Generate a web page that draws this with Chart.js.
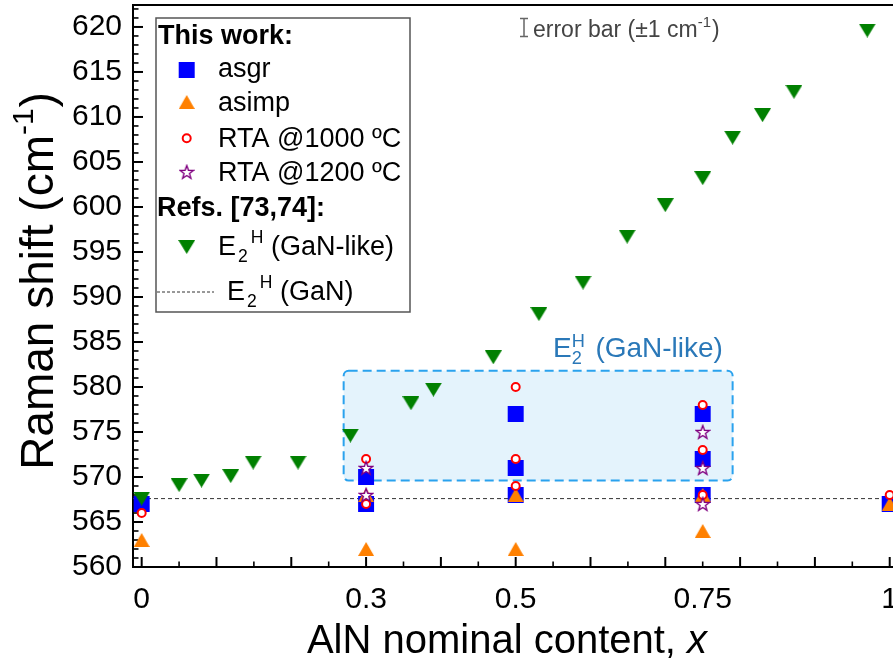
<!DOCTYPE html>
<html>
<head>
<meta charset="utf-8">
<script src="https://cdn.jsdelivr.net/npm/chart.js@4.4.0/dist/chart.umd.min.js"></script>
<style>
  html, body { margin: 0; padding: 0; background: #fff; overflow: hidden; }
  #wrap { width: 893px; height: 665px; }
</style>
</head>
<body>
<div id="wrap"><canvas id="ramanChart" width="893" height="665"></canvas></div>
<script>
// AlN nominal content (x) and Raman shift (cm-1)
const asgrX = [0, 0.3, 0.3, 0.5, 0.5, 0.5, 0.75, 0.75, 0.75, 1];
const asgrY = [567, 567, 570, 568, 571, 577, 568, 572, 577, 567];
const asimpX = [0, 0.3, 0.3, 0.5, 0.5, 0.75, 0.75, 1];
const asimpY = [563, 562, 568, 562, 568, 564, 568, 567];
const rta1000X = [0, 0.3, 0.3, 0.5, 0.5, 0.5, 0.75, 0.75, 0.75, 1];
const rta1000Y = [566, 567, 572, 569, 572, 580, 568, 573, 578, 568];
const rta1200X = [0.3, 0.3, 0.75, 0.75, 0.75];
const rta1200Y = [568, 571, 567, 571, 575];
// Refs. [73,74]: E2H (GaN-like)
const refX = [0, 0.05, 0.08, 0.119, 0.149, 0.209, 0.279, 0.36, 0.39, 0.47, 0.531, 0.59, 0.649, 0.70, 0.75, 0.79, 0.83, 0.872, 0.97];
const refY = [567.6, 569.1, 569.6, 570.1, 571.6, 571.6, 574.6, 578.2, 579.7, 583.3, 588.1, 591.6, 596.7, 600.2, 603.2, 607.7, 610.2, 612.8, 619.6];
const ganE2H = 567.6;

const xTickLabels = [0, 0.3, 0.5, 0.75, 1];
const yTickLabels = [560, 565, 570, 575, 580, 585, 590, 595, 600, 605, 610, 615, 620];
const xRange = [-0.0116, 1.0044];
const yRange = [560, 622.44];
// shaded E2H (GaN-like) region
const boxX = [0.27, 0.79];
const boxY = [569.6, 581.8];

const FONT = '"Liberation Sans", Arial, sans-serif';
const BLUE = '#0000ff', ORANGE = '#ff8000', RED = '#ff0000', PURPLE = '#800080', GREEN = '#008000';

function pts(xs, ys) { return xs.map((x, i) => ({ x: x, y: ys[i] })); }

function markerCanvas(w, h, draw) {
    const c = document.createElement('canvas');
    c.width = w; c.height = h;
    draw(c.getContext('2d'), w, h);
    return c;
}
const triUp = markerCanvas(16, 14, (g, w, h) => {
    g.fillStyle = ORANGE;
    g.beginPath(); g.moveTo(w / 2, 0); g.lineTo(w, h); g.lineTo(0, h); g.closePath(); g.fill();
});
const triDown = markerCanvas(17, 14, (g, w, h) => {
    g.fillStyle = GREEN;
    g.beginPath(); g.moveTo(0, 0); g.lineTo(w, 0); g.lineTo(w / 2, h); g.closePath(); g.fill();
});
const starImg = markerCanvas(16, 16, (g) => {
    g.beginPath();
    for (let i = 0; i < 10; i++) {
        const r = i % 2 === 0 ? 7 : 2.9;
        const a = -Math.PI / 2 + i * Math.PI / 5;
        const px = 8 + r * Math.cos(a), py = 8.6 + r * Math.sin(a);
        if (i === 0) g.moveTo(px, py); else g.lineTo(px, py);
    }
    g.closePath();
    g.fillStyle = '#fff'; g.fill();
    g.strokeStyle = PURPLE; g.lineWidth = 1.4; g.stroke();
});

// text with sub/superscripts
function fontOf(p, s) { return (p.italic ? 'italic ' : '') + (p.bold ? 'bold ' : '') + s + 'px ' + FONT; }
function richWidth(g, parts, size) {
    let w = 0;
    parts.forEach(p => {
        if (p.stack) {
            g.font = (size * 0.65) + 'px ' + FONT;
            w += Math.max(g.measureText(p.stack[0]).width, g.measureText(p.stack[1]).width) + size * 0.1;
        } else {
            g.font = fontOf(p, (p.sub || p.sup) ? size * 0.65 : size);
            w += g.measureText(p.t).width + (p.gap || 0);
        }
    });
    return w;
}
function drawRich(g, x, y, parts, size, color) {
    let cx = x;
    g.fillStyle = color;
    g.textAlign = 'left';
    g.textBaseline = 'alphabetic';
    parts.forEach(p => {
        if (p.stack) {
            g.font = (size * 0.65) + 'px ' + FONT;
            g.fillText(p.stack[0], cx, y - size * 0.36);
            g.fillText(p.stack[1], cx, y + size * 0.26);
            cx += Math.max(g.measureText(p.stack[0]).width, g.measureText(p.stack[1]).width) + size * 0.1;
        } else {
            const s = (p.sub || p.sup) ? size * 0.65 : size;
            const dy = p.sub ? size * 0.26 : (p.sup ? -size * 0.44 : 0);
            g.font = fontOf(p, s);
            g.fillText(p.t, cx, y + dy);
            cx += g.measureText(p.t).width + (p.gap || 0);
        }
    });
    return cx;
}

const framePlugin = {
    id: 'frame',
    beforeDatasetsDraw(chart) {
        const g = chart.ctx, a = chart.chartArea, xs = chart.scales.x, ys = chart.scales.y;
        g.save();
        // shaded region
        const bx0 = xs.getPixelForValue(boxX[0]), bx1 = xs.getPixelForValue(boxX[1]);
        const by0 = ys.getPixelForValue(boxY[1]), by1 = ys.getPixelForValue(boxY[0]);
        g.beginPath();
        g.roundRect(bx0, by0, bx1 - bx0, by1 - by0, 5);
        g.fillStyle = 'rgba(214, 236, 251, 0.65)';
        g.fill();
        g.setLineDash([9, 5]);
        g.strokeStyle = '#2aa2ee';
        g.lineWidth = 2;
        g.stroke();
        g.setLineDash([]);

        // inward ticks
        g.strokeStyle = '#000';
        for (let i = 0; i <= 20; i++) {
            const px = xs.getPixelForValue(i * 0.05);
            const len = i % 2 === 0 ? 10 : 5.5;
            g.lineWidth = i % 2 === 0 ? 2 : 1.6;
            g.beginPath(); g.moveTo(px, a.bottom); g.lineTo(px, a.bottom - len); g.stroke();
        }
        for (let v = 560; v <= 622; v++) {
            const py = ys.getPixelForValue(v);
            const len = v % 5 === 0 ? 10 : 5.5;
            g.lineWidth = v % 5 === 0 ? 2 : 1.6;
            g.beginPath(); g.moveTo(a.left, py); g.lineTo(a.left + len, py); g.stroke();
        }
        g.lineWidth = 2;
        g.beginPath(); g.moveTo(a.left - 1, a.top); g.lineTo(a.right, a.top); g.stroke();
        g.restore();
    },
    afterDraw(chart) {
        const g = chart.ctx;
        g.save();

        // region label
        drawRich(g, 553, 357, [{ t: 'E' }, { stack: ['H', '2'] }, { t: ' (GaN-like)' }], 28, '#2a78b8');

        // error bar note
        g.strokeStyle = '#666'; g.lineWidth = 1.5;
        g.beginPath();
        g.moveTo(520, 18.5); g.lineTo(528, 18.5);
        g.moveTo(524, 18.5); g.lineTo(524, 36.5);
        g.moveTo(520, 36.5); g.lineTo(528, 36.5);
        g.stroke();
        drawRich(g, 533, 37, [{ t: 'error bar (\u00b11 cm' }, { t: '-1', sup: true, gap: 1 }, { t: ')' }], 23, '#444');

        // legend
        g.fillStyle = '#fff';
        g.fillRect(156, 18, 254, 294);
        g.strokeStyle = '#555'; g.lineWidth = 1.5;
        g.strokeRect(156, 18, 254, 294);
        const mx = 186.7, tx = 218, fs = 27;
        drawRich(g, 158, 44, [{ t: 'This work:', bold: true }], fs, '#000');
        g.fillStyle = BLUE; g.fillRect(mx - 8, 70 - 8, 16, 16);
        drawRich(g, tx, 77, [{ t: 'asgr' }], fs, '#000');
        g.drawImage(triUp, mx - 8, 102 - 7);
        drawRich(g, tx, 111, [{ t: 'asimp' }], fs, '#000');
        g.beginPath(); g.arc(mx, 138.3, 4, 0, Math.PI * 2);
        g.fillStyle = '#fff'; g.fill(); g.strokeStyle = RED; g.lineWidth = 2; g.stroke();
        drawRich(g, tx, 147, [{ t: 'RTA @1000 \u00baC' }], fs, '#000');
        g.drawImage(starImg, mx - 8, 172 - 8);
        drawRich(g, tx, 181, [{ t: 'RTA @1200 \u00baC' }], fs, '#000');
        drawRich(g, 157, 216, [{ t: 'Refs. [73,74]:', bold: true }], fs, '#000');
        g.drawImage(triDown, mx - 8.5, 247 - 7);
        drawRich(g, tx, 255, [{ t: 'E', gap: 2 }, { t: '2', sub: true, gap: 3 }, { t: 'H', sup: true }, { t: ' (GaN-like)' }], fs, '#000');
        g.strokeStyle = '#333'; g.lineWidth = 1; g.setLineDash([3, 2]);
        g.beginPath(); g.moveTo(157, 292); g.lineTo(214, 292); g.stroke();
        g.setLineDash([]);
        drawRich(g, 227, 300, [{ t: 'E', gap: 2 }, { t: '2', sub: true, gap: 3 }, { t: 'H', sup: true }, { t: ' (GaN)' }], fs, '#000');

        // axis titles
        const yParts = [{ t: 'Raman shift (cm' }, { t: '-1', sup: true, gap: 1 }, { t: ')' }];
        g.save();
        g.translate(53, 281);
        g.rotate(-Math.PI / 2);
        drawRich(g, -richWidth(g, yParts, 46) / 2, 0, yParts, 46, '#000');
        g.restore();
        const xParts = [{ t: 'AlN nominal content, ' }, { t: 'x', italic: true }];
        drawRich(g, 507 - richWidth(g, xParts, 40) / 2, 653, xParts, 40, '#000');

        g.restore();
    }
};

const ctx = document.getElementById('ramanChart').getContext('2d');
const ramanChart = new Chart(ctx, {
    type: 'scatter',
    data: {
        datasets: [
            { label: 'E2H (GaN-like)', data: pts(refX, refY), pointStyle: triDown, order: 0 },
            { label: 'RTA @1200 ºC', data: pts(rta1200X, rta1200Y), pointStyle: starImg, order: 1 },
            {
                label: 'RTA @1000 ºC', data: pts(rta1000X, rta1000Y), pointStyle: 'circle',
                pointRadius: 4, pointBorderWidth: 2, borderColor: RED, backgroundColor: '#fff', order: 2
            },
            { label: 'asimp', data: pts(asimpX, asimpY), pointStyle: triUp, order: 3 },
            {
                label: 'asgr', data: pts(asgrX, asgrY), pointStyle: 'rect',
                pointRadius: 11.3, pointBorderWidth: 0, borderColor: BLUE, backgroundColor: BLUE, order: 4
            },
            {
                label: 'E2H (GaN)', type: 'line', data: [{ x: xRange[0], y: ganE2H }, { x: xRange[1], y: ganE2H }],
                borderColor: '#333', borderWidth: 1, borderDash: [4, 3], pointRadius: 0, order: 5
            }
        ]
    },
    options: {
        responsive: false,
        animation: false,
        clip: false,
        layout: { autoPadding: false, padding: { top: 5, right: 0, left: 0, bottom: 0 } },
        plugins: { legend: { display: false }, tooltip: { enabled: false } },
        elements: { point: { hoverRadius: 0 } },
        scales: {
            x: {
                type: 'linear',
                min: xRange[0], max: xRange[1],
                afterBuildTicks: s => { s.ticks = xTickLabels.map(v => ({ value: v })); },
                afterFit: s => { s.height = 98; s.paddingLeft = 0; s.paddingRight = 0; },
                ticks: { color: '#000', font: { family: FONT, size: 30 }, padding: 15, maxRotation: 0, autoSkip: false, callback: v => String(v) },
                grid: { display: false, drawTicks: false },
                border: { display: true, color: '#000', width: 2 }
            },
            y: {
                min: yRange[0], max: yRange[1],
                afterBuildTicks: s => { s.ticks = yTickLabels.map(v => ({ value: v })); },
                afterFit: s => { s.width = 133; s.paddingTop = 0; s.paddingBottom = 0; },
                ticks: { color: '#000', font: { family: FONT, size: 30 }, padding: 11, autoSkip: false },
                grid: { display: false, drawTicks: false },
                border: { display: true, color: '#000', width: 2 }
            }
        }
    },
    plugins: [framePlugin]
});
</script>
</body>
</html>
